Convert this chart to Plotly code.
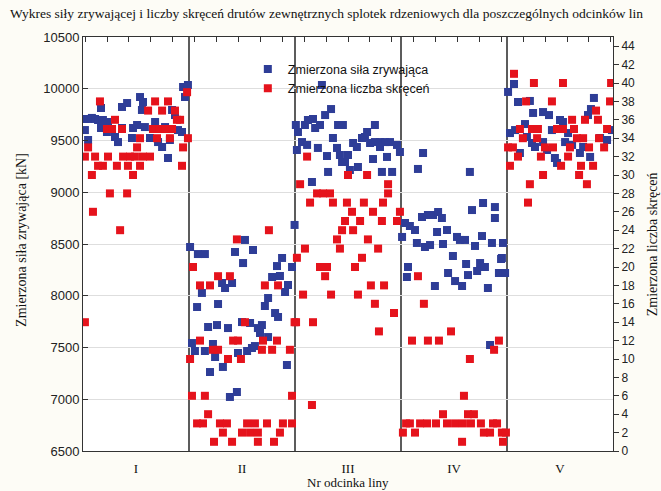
import numpy as np
import plotly.graph_objects as go

# ---------------- data ----------------
# observation number along the line (5 sections x 50 observations)
section_labels = ["I", "II", "III", "IV", "V"]
section_centers = [25, 75, 125, 175, 225]
section_bounds = [50, 100, 150, 200]

# Zmierzona siła zrywająca [kN]  (left axis)
obs_sila_I = [0.9, 0.9, 2.4, 2.4, 4.2, 5.7, 7.1, 9.4, 11.8, 8.5, 8.5, 11.3, 15.1, 16.5, 18.4, 20.8, 18.4, 23.1, 23.6,
              25.5, 26.9, 28.3, 27.8, 29.2, 31.6, 34.0, 35.4, 37.3, 38.7, 40.1, 41.0, 42.0, 43.4, 44.8, 46.7, 47.2,
              49.5, 48.1]
sila_I = [9708, 9601, 9505, 9708, 9718, 9708, 9698, 9698, 9679, 9814, 9621, 9582, 9534, 9485, 9824, 9862, 9621, 9524,
          9621, 9650, 9920, 9872, 9795, 9630, 9524, 9679, 9485, 9437, 9630, 9331, 9505, 9795, 9746, 9601, 9582, 10017,
          10036, 9920]

obs_sila_II = [50.5, 54.2, 57.5, 71.7, 76.4, 75.5, 80.2, 93.9, 91.5, 98.6, 89.2, 92.9, 96.7, 95.3, 87.3, 85.8, 90.6,
               92.0, 65.6, 67.0, 70.3, 56.1, 63.7, 53.8, 59.0, 63.2, 68.4, 75.0, 78.8, 82.5, 84.4, 83.5, 87.3, 51.4,
               52.8, 57.5, 61.3, 62.3, 73.1, 77.4, 79.7, 81.1, 66.0, 59.9, 96.2, 69.3, 72.6, 99.8]
sila_II = [8471, 8403, 8403, 8423, 8539, 8316, 8442, 8365, 8287, 8278, 8181, 8191, 8104, 8036, 7978, 7901, 7833, 7795,
           8123, 8075, 8123, 8027, 7920, 7891, 7698, 7717, 7688, 7746, 7737, 7688, 7717, 7640, 7601, 7543, 7466, 7466,
           7534, 7408, 7447, 7466, 7495, 7514, 7312, 7263, 7331, 7022, 7070, 8684]

obs_sila_III = [100.4, 101.4, 100.9, 103.3, 104.7, 105.7, 106.1, 108.5, 109.5, 111.8, 110.8, 114.2, 117.0, 117.9,
                115.1, 115.6, 108.0, 112.7, 120.3, 122.6, 119.8, 121.2, 122.2, 123.6, 125.0, 125.9, 129.7, 127.4,
                129.2, 131.6, 133.0, 134.0, 137.7, 136.8, 135.4, 137.7, 140.1, 142.5, 144.8, 140.1, 143.4, 141.0,
                145.8, 148.1, 149.5]
sila_III = [9650, 9582, 9408, 9485, 9650, 9457, 9698, 9708, 9621, 9650, 9428, 9746, 9804, 9524, 9350, 9196, 9099,
            10036, 9650, 9650, 9428, 9360, 9292, 9292, 9360, 9215, 9244, 9476, 9437, 9524, 9534, 9582, 9650, 9321,
            9476, 9485, 9485, 9485, 9485, 9437, 9341, 9196, 9196, 9457, 9389]

obs_sila_IV = [160.4, 158.0, 182.5, 150.5, 151.9, 154.2, 156.6, 159.9, 162.7, 165.1, 167.5, 169.3, 167.0, 171.7,
               157.5, 161.3, 163.7, 169.8, 176.4, 177.8, 180.2, 183.5, 188.7, 188.2, 184.9, 194.3, 194.3, 192.9,
               198.1, 174.5, 197.6, 153.3, 152.8, 166.0, 172.2, 175.5, 178.8, 180.7, 181.6, 185.9, 187.3, 189.6,
               191.0, 197.2, 196.2, 199.1, 192.0]
sila_IV = [9379, 9225, 9196, 8568, 8703, 8674, 8635, 8761, 8780, 8780, 8809, 8751, 8616, 8635, 8510, 8471, 8490, 8500,
           8568, 8539, 8539, 8828, 8896, 8577, 8481, 8857, 8751, 8510, 8510, 8384, 8365, 8278, 8181, 8094, 8220, 8142,
           8094, 8307, 8200, 8239, 8316, 8278, 8075, 8355, 8220, 8220, 7524]

obs_sila_V = [200.5, 203.3, 205.2, 210.8, 212.3, 217.0, 219.8, 208.5, 201.4, 203.8, 206.1, 209.4, 211.8, 213.2, 217.0,
              218.9, 222.6, 223.6, 221.2, 225.0, 226.4, 227.4, 228.8, 230.7, 234.4, 235.9, 239.2, 238.2, 239.6, 241.0,
              243.9, 247.2, 249.5]
sila_V = [9969, 10046, 9872, 9882, 9766, 9775, 9746, 9659, 9572, 9601, 9379, 9534, 9476, 9437, 9485, 9408, 9331, 9283,
          9601, 9698, 9679, 9485, 9572, 9457, 9379, 9437, 9341, 9746, 9804, 9911, 9524, 9505, 9601]

# Zmierzona liczba skręceń  (right axis)
obs_skr_I = [0.9, 0.9, 2.4, 4.2, 4.7, 5.7, 7.1, 8.0, 9.4, 11.3, 11.8, 12.7, 13.7, 15.1, 16.0, 17.5, 18.4, 18.9, 20.8,
             21.2, 22.2, 23.6, 24.5, 25.5, 26.9, 26.9, 28.3, 30.7, 31.6, 34.0, 33.0, 34.9, 36.3, 37.3, 38.7, 40.1,
             41.0, 42.0, 43.4, 44.3, 45.8, 46.7, 47.2, 49.1, 49.5]
skr_I = [32, 14, 33, 30, 26, 32, 31, 38, 31, 35, 32, 28, 35, 36, 31, 24, 35, 32, 28, 31, 32, 30, 32, 33, 31, 34, 32,
         37, 32, 38, 35, 34, 35, 37, 35, 38, 34, 35, 37, 36, 36, 31, 33, 39, 34]

obs_skr_II = [51.9, 63.7, 69.3, 55.2, 59.9, 85.8, 92.0, 76.4, 99.8, 55.2, 70.8, 73.1, 84.9, 91.5, 61.3, 63.7, 84.4,
              89.2, 97.6, 50.5, 68.4, 74.5, 51.4, 57.5, 98.6, 59.0, 53.8, 56.6, 64.6, 67.9, 77.4, 81.1, 86.8, 94.3,
              98.6, 66.0, 75.0, 78.8, 82.5, 92.9, 61.8, 70.3, 82.5, 90.1, 72.6, 87.7]
skr_II = [20, 19, 19, 18, 18, 18, 18, 14, 14, 12, 12, 12, 12, 12, 11, 11, 11, 11, 11, 10, 10, 10, 6, 6, 6, 4, 3, 3, 3,
          3, 3, 3, 3, 3, 3, 2, 2, 2, 2, 2, 1, 1, 1, 1, 23, 24]

obs_skr_III = [105.7, 125.0, 134.0, 102.4, 110.4, 113.2, 116.5, 143.9, 143.9, 107.1, 117.9, 124.5, 132.5, 141.5,
               126.9, 136.8, 149.5, 123.6, 130.7, 141.0, 148.1, 122.2, 127.4, 119.8, 134.4, 104.7, 121.2, 139.2,
               100.9, 131.6, 111.8, 115.1, 128.3, 114.2, 135.8, 142.0, 103.8, 117.0, 129.7, 137.7, 146.7, 100.5,
               108.5, 139.6, 108.0]
skr_III = [32, 30, 30, 29, 28, 28, 28, 29, 28, 27, 27, 27, 27, 27, 26, 26, 26, 25, 25, 25, 25, 24, 24, 23, 23, 22, 22,
           22, 21, 21, 20, 20, 20, 19, 18, 18, 17, 17, 17, 16, 15, 14, 14, 13, 5]

obs_skr_IV = [158.0, 160.8, 173.6, 155.2, 162.7, 167.9, 196.2, 193.9, 182.5, 179.7, 169.8, 181.6, 184.4, 152.4, 154.2,
              159.0, 162.3, 166.5, 171.7, 175.5, 179.2, 183.0, 187.7, 193.4, 195.3, 150.9, 156.6, 189.1, 192.0, 197.6,
              199.5, 178.8, 198.1]
skr_IV = [19, 16, 13, 12, 12, 12, 12, 11, 10, 6, 4, 4, 4, 3, 3, 3, 3, 3, 3, 3, 3, 3, 3, 3, 3, 2, 2, 2, 2, 2, 2, 1, 1]

obs_skr_V = [203.3, 212.7, 226.4, 249.1, 209.0, 221.2, 248.6, 242.0, 230.7, 236.8, 242.9, 206.1, 211.8, 214.6, 223.6,
             226.4, 231.6, 247.2, 207.5, 214.2, 233.0, 235.9, 243.4, 200.5, 202.8, 217.9, 221.7, 229.7, 238.7, 245.8,
             205.2, 216.0, 228.8, 201.4, 225.5, 234.9, 240.6, 217.0, 234.0, 210.8, 237.7, 209.9]
skr_V = [41, 40, 40, 40, 38, 38, 38, 37, 36, 36, 36, 35, 35, 35, 35, 35, 35, 35, 34, 34, 34, 34, 34, 33, 33, 33, 33,
         33, 33, 33, 32, 32, 32, 31, 31, 31, 31, 30, 30, 29, 29, 27]

left_ticks = list(range(6500, 10501, 500))
right_ticks = list(range(0, 45, 2))

obs_sila = obs_sila_I + obs_sila_II + obs_sila_III + obs_sila_IV + obs_sila_V
sila = sila_I + sila_II + sila_III + sila_IV + sila_V
obs_skr = obs_skr_I + obs_skr_II + obs_skr_III + obs_skr_IV + obs_skr_V
skr = skr_I + skr_II + skr_III + skr_IV + skr_V

# ---------------- figure ----------------
BLUE = "#2e3d97"
RED = "#e5131c"
BG = "#fdfcf6"
SANS = "Liberation Sans, Arial, sans-serif"
SERIF = "Liberation Serif, Times New Roman, serif"

fig = go.Figure()
fig.add_trace(go.Scatter(
    x=obs_sila, y=sila, mode="markers", name="Zmierzona siła zrywająca",
    marker=dict(symbol="square", size=8, color=BLUE, line=dict(width=0)),
    xaxis="x", yaxis="y"))
fig.add_trace(go.Scatter(
    x=obs_skr, y=skr, mode="markers", name="Zmierzona liczba skręceń",
    marker=dict(symbol="square", size=8, color=RED, line=dict(width=0)),
    xaxis="x", yaxis="y2"))
# invisible helper trace for the top tick axis
fig.add_trace(go.Scatter(x=[0], y=[6500], mode="markers", marker=dict(opacity=0),
                         showlegend=False, hoverinfo="skip", xaxis="x2", yaxis="y"))

for b in section_bounds:
    fig.add_shape(type="line", xref="x", yref="paper", x0=b, x1=b, y0=0, y1=1,
                  line=dict(color="#5c5c5c", width=2), layer="below")

fig.update_layout(
    width=661, height=491,
    margin=dict(l=83, r=48, t=37, b=40),
    paper_bgcolor=BG,
    plot_bgcolor="#ffffff",
    title=dict(
        text="Wykres siły zrywającej i liczby skręceń drutów zewnętrznych splotek rdzeniowych dla poszczególnych odcinków lin",
        font=dict(family=SERIF, size=13.5, color="#111"),
        x=10 / 661, xref="container", xanchor="left",
        y=1 - 13 / 491, yref="container", yanchor="middle"),
    xaxis=dict(
        range=[0, 250], tickmode="array", tickvals=section_centers, ticktext=section_labels,
        ticks="", showgrid=False, zeroline=False, showline=True, linecolor="#333", linewidth=1,
        ticklabelstandoff=5, automargin=False,
        tickfont=dict(family=SERIF, size=13, color="#111")),
    xaxis2=dict(
        overlaying="x", side="top", anchor="y", range=[0, 250], tickmode="array",
        tickvals=list(np.linspace(1, 249, 25)), ticks="inside", ticklen=5, tickcolor="#333",
        showticklabels=False, showgrid=False, zeroline=False, showline=True, linecolor="#333", linewidth=1),
    yaxis=dict(
        range=[6500, 10500], tickmode="array", tickvals=left_ticks, tickformat="d",
        ticks="inside", ticklen=5, tickcolor="#333",
        showgrid=True, gridcolor="#dedede", gridwidth=1, zeroline=False,
        showline=True, linecolor="#333", linewidth=1, automargin=False,
        tickfont=dict(family=SANS, size=13, color="#222")),
    yaxis2=dict(
        overlaying="y", side="right", anchor="x", range=[0, 45], tickmode="array", tickvals=right_ticks,
        ticks="outside", ticklen=5, tickcolor="#333", showgrid=False, zeroline=False,
        showline=True, linecolor="#333", linewidth=1, automargin=False,
        tickfont=dict(family=SANS, size=12, color="#222")),
    legend=dict(x=0.311, y=0.958, xanchor="left", yanchor="top", bgcolor="rgba(0,0,0,0)",
                font=dict(family=SANS, size=12.5, color="#111"), tracegroupgap=0),
    annotations=[
        dict(text="Zmierzona siła zrywająca [kN]", xref="paper", yref="paper", x=-0.115, y=0.51,
             xanchor="center", yanchor="middle",
             textangle=-90, showarrow=False, font=dict(family=SERIF, size=14, color="#111")),
        dict(text="Zmierzona liczba skręceń", xref="paper", yref="paper", x=1.074, y=0.50,
             xanchor="center", yanchor="middle",
             textangle=-90, showarrow=False, font=dict(family=SERIF, size=14, color="#111")),
        dict(text="Nr odcinka liny", xref="paper", yref="paper", x=0.5, y=-0.076,
             xanchor="center", yanchor="middle", showarrow=False,
             font=dict(family=SERIF, size=13, color="#111")),
    ],
)

fig.write_html(
    "out.html",
    config={"displayModeBar": False},
    post_script=f"document.body.style.margin='0px'; document.body.style.background='{BG}';",
)
